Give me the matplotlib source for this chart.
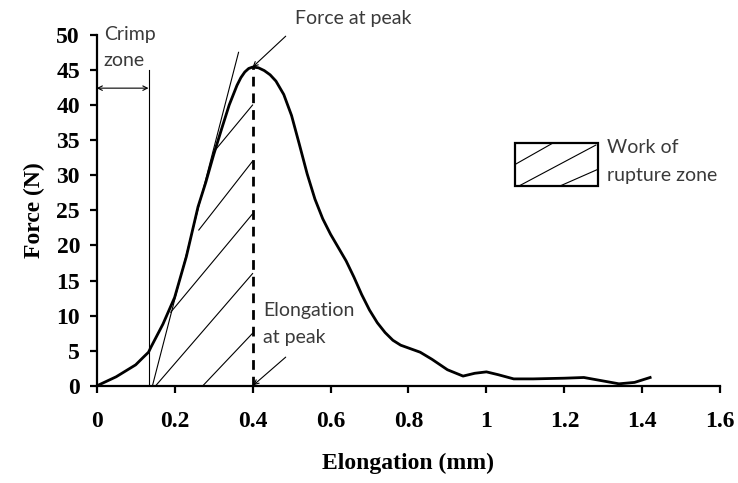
import numpy as np
import matplotlib
matplotlib.use("Agg")
import matplotlib.pyplot as plt
from matplotlib.patches import Rectangle

# force-elongation curve
elong = [0.00, 0.05, 0.10, 0.12, 0.133, 0.14, 0.17, 0.20, 0.23, 0.26, 0.28, 0.30,
         0.32, 0.34, 0.36, 0.37, 0.38, 0.39, 0.40, 0.415, 0.43, 0.445, 0.46, 0.48,
         0.50, 0.52, 0.54, 0.56, 0.58, 0.60, 0.62, 0.64, 0.66, 0.68, 0.70, 0.72,
         0.74, 0.76, 0.78, 0.83, 0.86, 0.90, 0.94, 0.97, 1.00, 1.03, 1.07, 1.12,
         1.20, 1.25, 1.29, 1.34, 1.38, 1.42]
force = [0.0, 1.3, 3.0, 4.1, 4.8, 5.6, 8.8, 12.6, 18.4, 25.5, 29.0, 32.9,
         36.5, 40.0, 42.8, 43.9, 44.7, 45.2, 45.4, 45.3, 44.9, 44.3, 43.4, 41.5,
         38.5, 34.4, 30.2, 26.6, 23.8, 21.6, 19.7, 17.8, 15.5, 13.0, 10.8, 9.0,
         7.6, 6.5, 5.8, 4.8, 3.8, 2.3, 1.4, 1.8, 2.0, 1.6, 1.0, 1.0,
         1.1, 1.2, 0.8, 0.3, 0.5, 1.2]

peak_x, peak_y = 0.40, 45.4
crimp_x = 0.133
tangent_x = [0.143, 0.364]
tangent_y = [0.0, 47.5]

# hatch lines of the work of rupture zone: start point, end on the peak line
hatch_x0 = [0.300, 0.262, 0.190, 0.151, 0.272]
hatch_y0 = [33.3, 22.2, 10.5, 0.0, 0.0]
hatch_y1 = [40.0, 32.0, 24.5, 16.0, 7.5]

xticks = [0, 0.2, 0.4, 0.6, 0.8, 1, 1.2, 1.4, 1.6]
xticklabels = ["0", "0.2", "0.4", "0.6", "0.8", "1", "1.2", "1.4", "1.6"]
yticks = list(range(0, 51, 5))

serif = "Liberation Serif"
sans = "Lato"
note_color = "#3a3a3a"
note_size = 14

fig = plt.figure(figsize=(7.38, 4.83), dpi=100)
ax = fig.add_axes([0.131, 0.201, 0.845, 0.727])

ax.plot(elong, force, color="black", lw=2.0, solid_joinstyle="round")

# tangent and hatching
ax.plot(tangent_x, tangent_y, color="black", lw=0.8)
for x0, y0, y1 in zip(hatch_x0, hatch_y0, hatch_y1):
	ax.plot([x0, peak_x], [y0, y1], color="black", lw=0.8)

# peak elongation (dashed) and crimp limit
ax.plot([peak_x, peak_x], [0, peak_y], color="black", lw=2.0, ls=(0, (3.5, 2.5)))
ax.plot([crimp_x, crimp_x], [0, 45], color="black", lw=0.8)
ax.annotate("", xy=(0, 42.4), xytext=(crimp_x, 42.4),
			arrowprops=dict(arrowstyle="<->", lw=0.8, color="black",
							shrinkA=0, shrinkB=0, mutation_scale=8))

# annotations
ax.text(0.018, 50.1, "Crimp", fontsize=note_size, family=sans, color=note_color,
		va="center", ha="left", clip_on=False)
ax.text(0.018, 46.3, "zone", fontsize=note_size, family=sans, color=note_color,
		va="center", ha="left", clip_on=False)

ax.text(0.51, 52.3, "Force at peak", fontsize=note_size, family=sans, color=note_color,
		va="center", ha="left", clip_on=False)
ax.annotate("", xy=(peak_x, peak_y), xytext=(0.485, 49.8),
			arrowprops=dict(arrowstyle="->", lw=0.8, color="black",
							shrinkA=0, shrinkB=0, mutation_scale=8),
			annotation_clip=False)

ax.text(0.428, 10.7, "Elongation", fontsize=note_size, family=sans, color=note_color,
		va="center", ha="left")
ax.text(0.428, 6.9, "at peak", fontsize=note_size, family=sans, color=note_color,
		va="center", ha="left")
ax.annotate("", xy=(0.402, 0.1), xytext=(0.485, 4.1),
			arrowprops=dict(arrowstyle="->", lw=0.8, color="black",
							shrinkA=0, shrinkB=0, mutation_scale=8))

# legend box for the hatched zone
bx, by, bw, bh = 1.074, 28.5, 0.211, 6.1
ax.add_patch(Rectangle((bx, by), bw, bh, fill=False, ec="black", lw=1.6))
box_lines = [((0.0, 0.5), (0.46, 1.0)), ((0.05, 0.0), (0.98, 0.95)), ((0.55, 0.0), (1.0, 0.38))]
for (fx0, fy0), (fx1, fy1) in box_lines:
	ax.plot([bx + fx0 * bw, bx + fx1 * bw], [by + fy0 * bh, by + fy1 * bh],
			color="black", lw=0.8)
ax.text(1.31, 33.9, "Work of", fontsize=note_size, family=sans, color=note_color,
		va="center", ha="left")
ax.text(1.31, 30.0, "rupture zone", fontsize=note_size, family=sans, color=note_color,
		va="center", ha="left")

# axes
ax.set_xlim(0, 1.6)
ax.set_ylim(0, 50)
for side in ["top", "right"]:
	ax.spines[side].set_visible(False)
for side in ["left", "bottom"]:
	ax.spines[side].set_linewidth(1.6)
ax.set_xticks(xticks)
ax.set_xticklabels(xticklabels)
ax.set_yticks(yticks)
ax.tick_params(axis="x", direction="out", length=5, width=1.6, pad=13)
ax.tick_params(axis="y", direction="out", length=5, width=1.6, pad=7)
for lab in ax.get_xticklabels() + ax.get_yticklabels():
	lab.set_fontfamily(serif)
	lab.set_fontweight("bold")
	lab.set_fontsize(17)

ax.set_xlabel("Elongation (mm)", fontfamily=serif, fontweight="bold", fontsize=17, labelpad=15)
ax.set_ylabel("Force (N)", fontfamily=serif, fontweight="bold", fontsize=17, labelpad=8)

fig.savefig("out.png", dpi=100)
